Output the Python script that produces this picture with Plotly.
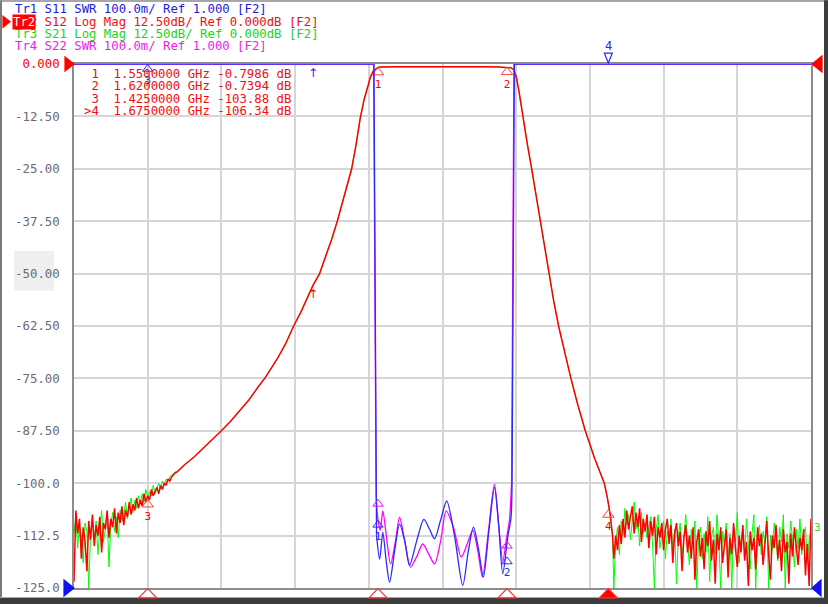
import numpy as np
import plotly.graph_objects as go

# ---- instrument settings (10 div each axis) ----
f_start, f_stop = 1.385, 1.785      # GHz, 40 MHz/div
db_top, db_bot = 0.0, -125.0        # Tr2/Tr3 Log Mag 12.50 dB/div
swr_bot, swr_top = 1.0, 2.0         # Tr1/Tr4 SWR 100.0m/div

ytick_vals = [0.0, -12.5, -25.0, -37.5, -50.0, -62.5, -75.0, -87.5, -100.0, -112.5, -125.0]
ytick_text = ['0.000', '-12.50', '-25.00', '-37.50', '-50.00', '-62.50',
              '-75.00', '-87.50', '-100.0', '-112.5', '-125.0']

# ---- S12 (red) / S21 (green), dB ----
# lower stopband noise, 1 MHz sweep points 1.385 .. 1.440
lo_freq = np.linspace(1.385, 1.440, 56)
s12_lo = [-123.5, -106.5, -112.0, -108.5, -118.0, -110.5, -114.0, -121.0, -109.0, -113.5,
          -107.5, -115.0, -110.0, -112.5, -108.0, -116.5, -109.5, -111.0, -106.5, -113.0,
          -108.5, -110.5, -106.0, -112.0, -107.0, -109.5, -105.5, -110.0, -106.5, -108.0,
          -104.5, -107.5, -105.0, -106.5, -103.5, -106.0, -104.0, -105.5, -102.5, -104.5,
          -103.0, -104.0, -101.5, -103.0, -102.0, -101.0, -102.5, -100.5, -101.5, -100.0,
          -100.5, -99.0, -99.5, -98.5, -98.0, -97.5]
s21_lo = [-112.0, -108.0, -115.5, -110.0, -113.0, -119.0, -109.5, -111.5, -125.0, -112.0,
          -108.5, -113.5, -109.0, -117.0, -111.0, -106.5, -114.0, -110.5, -108.0, -120.0,
          -109.5, -107.0, -111.5, -108.0, -113.0, -106.5, -109.0, -107.5, -104.5, -108.5,
          -105.5, -103.5, -107.0, -104.0, -106.0, -103.0, -105.0, -102.5, -104.5, -101.5,
          -103.5, -102.0, -103.0, -100.5, -102.5, -101.0, -100.0, -101.5, -99.5, -100.5,
          -99.0, -99.5, -98.5, -98.0, -97.8, -97.3]

# lower skirt, passband, upper skirt (S12 and S21 overlap here)
skirt_lo_f = [1.441, 1.445, 1.450, 1.455, 1.460, 1.465, 1.470, 1.475, 1.480, 1.485,
              1.4885, 1.492, 1.496, 1.500, 1.5042, 1.508, 1.512, 1.5147, 1.5183, 1.522,
              1.525, 1.5279, 1.531, 1.5335, 1.5357, 1.538, 1.5404, 1.5425, 1.5445, 1.546,
              1.5475, 1.549, 1.550]
skirt_lo_db = [-97.3, -95.6, -93.8, -91.7, -89.7, -87.5, -85.2, -82.7, -80.1, -77.0,
               -75.0, -72.6, -69.8, -66.6, -62.5, -59.3, -55.5, -52.8, -50.0, -45.6,
               -41.6, -37.5, -32.4, -28.4, -25.0, -19.5, -12.8, -8.4, -5.2, -3.0,
               -1.6, -1.0, -0.80]
pass_f = [1.551, 1.553, 1.556, 1.560, 1.565, 1.570, 1.575, 1.580, 1.585, 1.590,
          1.595, 1.600, 1.605, 1.610, 1.615, 1.618, 1.620, 1.621, 1.622]
pass_db = [-0.74, -0.70, -0.68, -0.67, -0.68, -0.66, -0.67, -0.68, -0.66, -0.67,
           -0.68, -0.67, -0.69, -0.68, -0.70, -0.71, -0.74, -0.78, -0.88]
skirt_hi_f = [1.6235, 1.625, 1.6265, 1.6285, 1.631, 1.6334, 1.6357, 1.6380, 1.6403, 1.6426,
              1.6453, 1.6480, 1.6513, 1.6547, 1.6585, 1.6625, 1.6675, 1.6728, 1.6745, 1.6760,
              1.6773]
skirt_hi_db = [-1.3, -3.0, -6.5, -12.5, -19.0, -25.0, -31.2, -37.5, -43.8, -50.0,
               -56.4, -62.5, -68.9, -75.0, -81.4, -87.5, -94.0, -100.0, -103.5, -107.5,
               -112.5]

# upper stopband noise, 1 MHz sweep points 1.678 .. 1.785
hi_freq = np.linspace(1.678, 1.785, 108)
s12_hi = [-118.0, -112.5, -116.0, -110.0, -114.5, -108.5, -113.0, -106.5, -111.0, -108.0,
          -105.5, -112.0, -107.0, -110.5, -106.0, -114.0, -108.5, -111.5, -107.5, -115.5,
          -109.0, -112.5, -108.0, -117.0, -110.5, -113.0, -109.5, -116.0, -111.0, -108.5,
          -114.5, -110.0, -119.0, -112.0, -109.5, -115.0, -111.5, -121.0, -113.0, -110.0,
          -116.5, -112.5, -118.0, -110.5, -123.0, -114.0, -111.0, -117.5, -113.0, -120.5,
          -111.5, -115.0, -109.0, -118.5, -113.5, -124.0, -112.0, -116.0, -110.5, -119.0,
          -114.5, -111.0, -122.5, -113.0, -117.0, -109.5, -115.5, -120.0, -112.5, -116.5,
          -110.0, -118.5, -114.0, -124.5, -111.5, -116.0, -113.0, -120.5, -110.5, -115.0,
          -112.0, -119.5, -114.5, -109.0, -117.0, -123.0, -112.5, -115.5, -110.0, -118.0,
          -113.5, -121.0, -111.0, -116.5, -114.0, -124.0, -112.0, -117.5, -110.5, -115.0,
          -119.5, -113.0, -116.0, -111.0, -122.0, -114.5, -124.5, -108.5]
s21_hi = [-125.0, -114.0, -110.5, -117.0, -109.0, -112.5, -106.0, -110.0, -107.5, -113.5,
          -109.0, -104.5, -111.0, -108.5, -115.0, -107.0, -112.0, -109.5, -113.0, -110.0,
          -108.0, -114.5, -125.0, -111.0, -107.5, -115.5, -112.5, -109.0, -118.0, -111.5,
          -113.0, -108.5, -116.0, -111.0, -124.0, -112.5, -109.5, -117.5, -113.0, -107.5,
          -114.0, -119.5, -111.0, -115.5, -109.0, -125.0, -113.5, -110.5, -118.0, -112.0,
          -116.5, -108.0, -123.5, -113.0, -110.5, -117.0, -107.5, -114.5, -125.0, -111.5,
          -115.0, -109.5, -118.5, -112.0, -125.0, -110.5, -114.0, -107.0, -119.0, -113.5,
          -111.0, -116.5, -108.5, -114.0, -120.5, -112.0, -107.5, -125.0, -113.5, -110.0,
          -117.0, -111.5, -114.5, -108.0, -125.0, -112.5, -116.0, -109.5, -113.0, -118.5,
          -110.5, -114.0, -107.5, -125.0, -112.0, -115.5, -109.0, -113.5, -120.0, -111.0,
          -115.5, -108.5, -117.0, -112.0, -110.5, -119.0, -113.5, -111.0]

# ---- S11 (blue) / S22 (magenta) SWR; out of band clipped at top of screen ----
s11_wall_lo_f, s11_wall_lo = [f_start, 1.5478, 1.5492], [2.0, 2.0, 1.10]
s11_pb_f = [1.5492, 1.5509, 1.5526, 1.5545, 1.5563, 1.5590, 1.5617, 1.5645, 1.5671, 1.5710,
            1.5749, 1.5780, 1.5807, 1.5840, 1.5873, 1.5915, 1.5960, 1.5990, 1.6018, 1.6045,
            1.6072, 1.6102, 1.6132, 1.6155, 1.6177, 1.6204, 1.6222, 1.6228]
s11_pb = [1.10, 1.055, 1.106, 1.05, 1.011, 1.07, 1.122, 1.09, 1.043, 1.09,
          1.131, 1.112, 1.094, 1.13, 1.166, 1.10, 1.005, 1.07, 1.116, 1.075,
          1.021, 1.11, 1.192, 1.12, 1.027, 1.097, 1.135, 1.23]
s11_wall_hi_f, s11_wall_hi = [1.6228, 1.6240, f_stop], [1.23, 2.0, 2.0]

s22_wall_lo_f, s22_wall_lo = [f_start, 1.5476, 1.5490], [2.0, 2.0, 1.173]
s22_pb_f = [1.5490, 1.5500, 1.5512, 1.5526, 1.5545, 1.5568, 1.5595, 1.5617, 1.5645, 1.5677,
            1.5710, 1.5743, 1.5775, 1.5807, 1.5840, 1.5870, 1.5910, 1.5952, 1.5985, 1.6014,
            1.6042, 1.6067, 1.6100, 1.6132, 1.6155, 1.6177, 1.6200, 1.6213, 1.6225]
s22_pb = [1.173, 1.13, 1.11, 1.147, 1.10, 1.046, 1.09, 1.135, 1.09, 1.040,
          1.06, 1.084, 1.065, 1.046, 1.09, 1.147, 1.115, 1.059, 1.085, 1.110,
          1.07, 1.021, 1.11, 1.198, 1.12, 1.052, 1.10, 1.128, 1.20]
s22_wall_hi_f, s22_wall_hi = [1.6225, 1.6238, f_stop], [1.20, 2.0, 2.0]

# ---- markers ----
mk_names = ['1', '2', '3', '4']
mk_freq = [1.55, 1.62, 1.425, 1.675]
mk_s12 = [-0.7986, -0.7394, -103.88, -106.34]
mk_active = 3
mk_s11 = [1.13, 1.06, 2.0, 2.0]
mk_s22 = [1.17, 1.09, 2.0, 2.0]

header = [
    ('Tr1 S11 SWR 100.0m/ Ref 1.000 [F2]', '#1c1cdc'),
    ('Tr2 S12 Log Mag 12.50dB/ Ref 0.000dB [F2]', '#f01010'),
    ('Tr3 S21 Log Mag 12.50dB/ Ref 0.000dB [F2]', '#1cd41c'),
    ('Tr4 S22 SWR 100.0m/ Ref 1.000 [F2]', '#ee1cee'),
]

RED, GREEN, BLUE, MAG = '#ff0000', '#00ff00', '#2a2aff', '#ff00ff'
MONO = 'DejaVu Sans Mono'

# screen geometry (px) for the decorations around the grid
W, H = 828, 607
L, R, T, B = 74, 811, 64, 591
def pxx(px):
    return (px - L) / (R - L)
def pxy(py):
    return (B - py) / (B - T)
ghz_px = (f_stop - f_start) / (R - L)
db_px = (db_top - db_bot) / (B - T)
swr_px = (swr_top - swr_bot) / (B - T)
nb = lambda s: s.replace(' ', '\u00a0')

def tri(pts, fill, outline=None):
    # triangle given in screen px, drawn in paper coords
    path = 'M ' + ' L '.join('%.5f %.5f' % (pxx(x), pxy(y)) for x, y in pts) + ' Z'
    return dict(type='path', xref='paper', yref='paper', path=path,
                fillcolor=fill, line=dict(color=outline or fill, width=1.2))

s12_f = np.concatenate([lo_freq, skirt_lo_f, pass_f, skirt_hi_f, hi_freq])
s12_db = np.concatenate([s12_lo, skirt_lo_db, pass_db, skirt_hi_db, s12_hi])
s21_db = np.concatenate([s21_lo, skirt_lo_db, pass_db, skirt_hi_db, s21_hi])

fig = go.Figure()

# Tr3 S21
fig.add_trace(go.Scatter(x=s12_f, y=s21_db, mode='lines', line=dict(color=GREEN, width=1.0)))
# Tr2 S12
fig.add_trace(go.Scatter(x=s12_f, y=s12_db, mode='lines', line=dict(color=RED, width=1.5)))
# on-trace markers hang below the point (apex on the trace)
fig.add_trace(go.Scatter(x=mk_freq, y=[v - 5 * db_px for v in mk_s12], mode='markers+text',
                         text=mk_names, textposition='bottom center', cliponaxis=False,
                         textfont=dict(color=RED, size=11, family=MONO),
                         marker=dict(symbol='triangle-up-open', size=10, color='#ff4040',
                                     line=dict(width=1))))

# Tr4 S22 and Tr1 S11 on their own SWR scale
for wf, wv, pf, pv, wf2, wv2, col in [
        (s22_wall_lo_f, s22_wall_lo, s22_pb_f, s22_pb, s22_wall_hi_f, s22_wall_hi, MAG),
        (s11_wall_lo_f, s11_wall_lo, s11_pb_f, s11_pb, s11_wall_hi_f, s11_wall_hi, BLUE)]:
    fig.add_trace(go.Scatter(x=wf, y=wv, yaxis='y2', mode='lines', line=dict(color=col, width=1.3)))
    fig.add_trace(go.Scatter(x=pf, y=pv, yaxis='y2', mode='lines',
                             line=dict(color=col, width=1.3, shape='spline', smoothing=0.8)))
    fig.add_trace(go.Scatter(x=wf2, y=wv2, yaxis='y2', mode='lines', line=dict(color=col, width=1.3)))

fig.add_trace(go.Scatter(x=mk_freq[:2], y=[v - 5 * swr_px for v in mk_s22[:2]], yaxis='y2',
                         mode='markers', marker=dict(symbol='triangle-up-open', size=9, color=MAG)))
fig.add_trace(go.Scatter(x=mk_freq[:3], y=[v - 5 * swr_px for v in mk_s11[:3]], yaxis='y2',
                         mode='markers+text', text=mk_names[:3], textposition='bottom center',
                         cliponaxis=False, textfont=dict(color=BLUE, size=11, family=MONO),
                         marker=dict(symbol='triangle-up-open', size=9, color=BLUE)))

annotations = []
# trace header lines
for i, (txt, col) in enumerate(header):
    annotations.append(dict(x=pxx(13), y=pxy(9 + 12.4 * i), xref='paper', yref='paper',
                            xanchor='left', yanchor='middle', showarrow=False, text=nb(txt),
                            font=dict(family=MONO, size=12.3, color=col)))
annotations.append(dict(x=pxx(12), y=pxy(21.4), xref='paper', yref='paper', xanchor='left',
                        yanchor='middle', showarrow=False, text='Tr2', bgcolor='#ff0000',
                        borderpad=0, font=dict(family=MONO, size=12.3, color='white')))
# marker readout table
for i, (n, f, v) in enumerate(zip(mk_names, mk_freq, mk_s12)):
    row = ('>' if i == mk_active else ' ') + n + '  ' + f'{f:.7f} GHz {v:.5g} dB'
    annotations.append(dict(x=pxx(82), y=pxy(74 + 12.5 * i), xref='paper', yref='paper',
                            xanchor='left', yanchor='middle', showarrow=False, text=nb(row),
                            font=dict(family=MONO, size=12.3, color='#f01010')))
# Tr1 marker 4 sits above the screen top: label over a down-pointing triangle
annotations.append(dict(x=mk_freq[3], y=pxy(46), xref='x', yref='paper', yanchor='middle',
                        showarrow=False, text=mk_names[3],
                        font=dict(family=MONO, size=12, color=BLUE)))
# stimulus arrows
annotations.append(dict(x=1.5145, y=pxy(T), xref='x', yref='paper', yanchor='top', showarrow=False,
                        text='\u2191', font=dict(family='DejaVu Sans', size=12, color=BLUE)))
annotations.append(dict(x=1.5145, y=-52.8, xref='x', yref='y', yanchor='top', showarrow=False,
                        text='\u2191', font=dict(family='DejaVu Sans', size=12, color=RED)))
# Tr3 label at right edge
annotations.append(dict(x=pxx(812), y=pxy(530), xref='paper', yref='paper', xanchor='left',
                        yanchor='middle', showarrow=False, text='3',
                        font=dict(family=MONO, size=11, color='#30e030')))

shapes = [
    # hover highlight behind a tick label
    dict(type='rect', xref='paper', yref='paper', x0=pxx(14), x1=pxx(54), y0=pxy(292), y1=pxy(252),
         fillcolor='#efefef', line=dict(width=0), layer='below'),
    # window frame
    dict(type='rect', xref='paper', yref='paper', x0=pxx(0), x1=pxx(2), y0=pxy(H), y1=pxy(0),
         fillcolor='#7a7a7a', line=dict(width=0)),
    dict(type='rect', xref='paper', yref='paper', x0=pxx(0), x1=pxx(W), y0=pxy(1.5), y1=pxy(0),
         fillcolor='#8a8a8a', line=dict(width=0)),
    dict(type='rect', xref='paper', yref='paper', x0=pxx(824), x1=pxx(W), y0=pxy(H), y1=pxy(0),
         fillcolor='#3c3c3c', line=dict(width=0)),
    dict(type='rect', xref='paper', yref='paper', x0=pxx(0), x1=pxx(W), y0=pxy(H), y1=pxy(601),
         fillcolor='#3c3c3c', line=dict(width=0)),
    dict(type='line', xref='paper', yref='paper', x0=pxx(0), x1=pxx(824), y0=pxy(600.5), y1=pxy(600.5),
         line=dict(color='#a8a8a8', width=1)),
    # active trace pointer in the header
    tri([(3, 16), (10, 21.5), (3, 27)], '#ff0000'),
    # reference level arrows at the grid edges
    tri([(65, 57), (74, 64), (65, 71)], '#ff0000'),
    tri([(822, 56), (812, 64), (822, 72)], '#ff0000'),
    tri([(64, 583), (74, 591), (64, 599)], '#1010f0'),
    tri([(821, 583), (812, 591), (821, 599)], '#1010f0'),
]
# Tr1 marker 4 triangle above the top line
x4 = L + (mk_freq[3] - f_start) / ghz_px
shapes.append(tri([(x4 - 4, 53), (x4 + 4, 53), (x4, 63)], 'rgba(0,0,0,0)', BLUE))
# stimulus markers under the grid, the active one filled
for i, f in enumerate(mk_freq):
    xp = L + (f - f_start) / ghz_px
    fill = '#ff0000' if i == mk_active else 'rgba(0,0,0,0)'
    shapes.append(tri([(xp - 9, 601), (xp, 591.5), (xp + 9, 601)], fill, '#ff3030'))

ytext = [('<span style="color:#ff0000">%s</span>' % t) if v == db_top else t
         for v, t in zip(ytick_vals, ytick_text)]

fig.update_layout(
    width=W, height=H, margin=dict(l=L, r=W - R, t=T, b=H - B),
    paper_bgcolor='white', plot_bgcolor='white', showlegend=False,
    xaxis=dict(range=[f_start, f_stop], tick0=f_start, dtick=0.04, showticklabels=False,
               showgrid=True, gridcolor='#d6d6d6', gridwidth=1.5, zeroline=False,
               showline=True, mirror=True, linecolor='#8c8c8c', linewidth=1.5),
    yaxis=dict(range=[db_bot, db_top], tickvals=ytick_vals, ticktext=ytext,
               showgrid=True, gridcolor='#d6d6d6', gridwidth=1.5, zeroline=False,
               showline=True, mirror=True, linecolor='#8c8c8c', linewidth=1.5,
               ticklabelstandoff=10, tickfont=dict(family=MONO, size=12.4, color='#6a6a78')),
    yaxis2=dict(range=[swr_bot, swr_top], overlaying='y', visible=False),
    annotations=annotations, shapes=shapes,
)

# page has a default 8px body margin; drop it and keep the page exactly one figure tall
page_js = ("document.documentElement.style.margin='0px';"
           "document.body.style.margin='0px';"
           "document.documentElement.style.height='607px';"
           "document.body.style.height='607px';"
           "document.documentElement.style.overflow='hidden';"
           "document.body.style.overflow='hidden';")
fig.write_html("out.html", config={'displayModeBar': False}, post_script=page_js)
